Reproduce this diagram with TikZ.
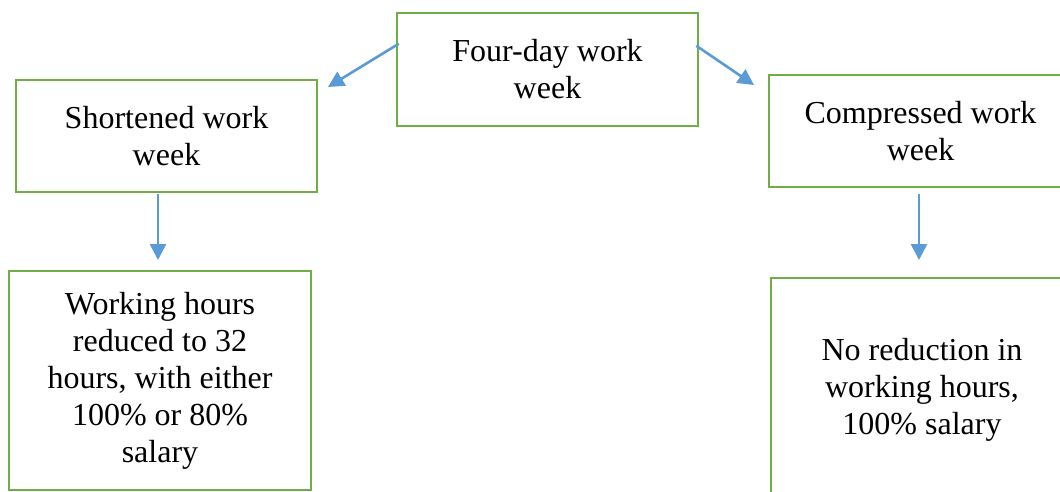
\documentclass[tikz,border=0pt]{standalone}
\usepackage{fontspec}
\setmainfont{Liberation Serif}
\usetikzlibrary{arrows.meta}
\definecolor{boxgreen}{RGB}{112,173,71}
\definecolor{arrowblue}{RGB}{91,155,213}
\tikzset{
  box/.style={draw=boxgreen, line width=2.5pt, fill=white, rectangle, align=center,
    inner sep=0pt, font=\fontsize{32}{37}\selectfont, text=black},
  conn/.style={draw=arrowblue, line width=2.6pt, -{Triangle[length=16pt,width=16pt]}}
}
\begin{document}
\begin{tikzpicture}[x=1pt,y=-1pt]
\useasboundingbox (0,0) rectangle (1060,492);
\clip (0,0) rectangle (1060,492);
\fill[white] (0,0) rectangle (1060,492);
\node[box, minimum width=301pt, minimum height=113pt] (top) at (547.5,69.5) {Four-day work\\week};
\node[box, minimum width=301pt, minimum height=112pt] (short) at (166.5,136) {Shortened work\\week};
\node[box, minimum width=303pt, minimum height=112pt] (comp) at (920.5,131) {Compressed work\\week};
\node[box, minimum width=302pt, minimum height=219pt] (shortd) at (160,380.5) {Working hours\\reduced to 32\\hours, with either\\100\% or 80\%\\salary};
\node[box, minimum width=302pt, minimum height=224pt] (compd) at (922,390) {No reduction in\\working hours,\\100\% salary};
\coordinate (s1) at ([shift={(3,32)}]top.north west);
\coordinate (t1) at (328,87);
\coordinate (s2) at ([shift={(-3,34)}]top.north east);
\coordinate (t2) at (754,85);
\coordinate (s3) at ([shift={(-8.5,1)}]short.south);
\coordinate (t3) at (158,260);
\coordinate (s4) at ([shift={(-1.5,6)}]comp.south);
\coordinate (t4) at (919,260);
\draw[conn] (s1) -- (t1);
\draw[conn] (s2) -- (t2);
\draw[conn] (s3) -- (t3);
\draw[conn] (s4) -- (t4);
\end{tikzpicture}
\end{document}
